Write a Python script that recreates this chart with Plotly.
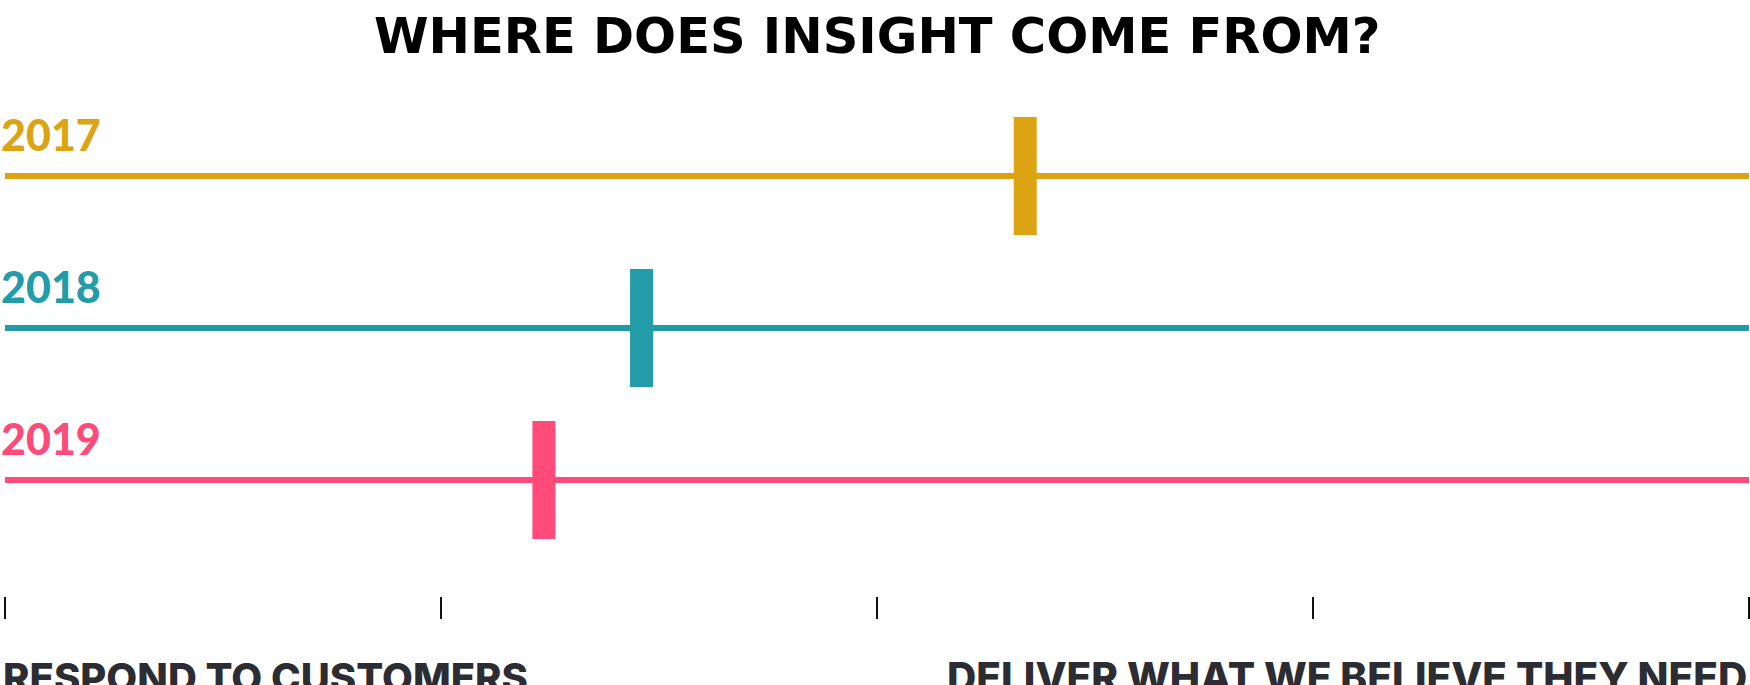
import plotly.graph_objects as go

# ---- data ----
years = ["2017", "2018", "2019"]
positions = [58.5, 36.5, 30.9]          # position on the 0-100 scale
colors = ["#DCA412", "#229CA8", "#FF4A7A"]
tick_values = [0, 25, 50, 75, 100]
left_label = "RESPOND TO CUSTOMERS"
right_label = "DELIVER WHAT WE BELIEVE THEY NEED"
title_text = "WHERE DOES INSIGHT COME FROM?"

W, H = 1750, 685
ML, MR, MT, MB = 5, 1, 0, 89
plot_h = H - MT - MB
row_top_px = 176          # pixel centre of the first row
row_gap_px = 152          # pixel gap between rows
y_lo = -(row_top_px - 0) / row_gap_px
y_hi = (plot_h - row_top_px) / row_gap_px
marker_len_px = 118
marker_w_px = 23

fig = go.Figure()
for i, (yr, pos, col) in enumerate(zip(years, positions, colors)):
    fig.add_trace(go.Scatter(
        x=[tick_values[0], tick_values[-1]], y=[i, i], mode="lines",
        line=dict(color=col, width=6), hoverinfo="skip", showlegend=False,
        cliponaxis=False))
    fig.add_trace(go.Scatter(
        x=[pos], y=[i], mode="markers",
        marker=dict(symbol="line-ns", size=marker_len_px / 1.4,
                    line=dict(color=col, width=marker_w_px)),
        showlegend=False, name=yr, cliponaxis=False))
    fig.add_annotation(
        x=0, y=i, xref="x", yref="y", text=yr, showarrow=False,
        xanchor="left", yanchor="bottom", xshift=-6, yshift=14,
        font=dict(family="Lato", size=43, color=col, weight=900))

fig.add_annotation(
    x=0.5, y=1, xref="paper", yref="paper", text=title_text, showarrow=False,
    xanchor="center", yanchor="top", yshift=-5,
    font=dict(family="DejaVu Sans", size=49.5, color="#000000", weight=700))

fig.add_annotation(
    x=0, y=0, xref="paper", yref="paper", text=left_label, showarrow=False,
    xanchor="left", yanchor="top", yshift=-55, xshift=-4,
    font=dict(family="Inter", size=40, color="#2B2D33", weight=800))
fig.add_annotation(
    x=1, y=0, xref="paper", yref="paper", text=right_label, showarrow=False,
    xanchor="right", yanchor="top", yshift=-55, xshift=0,
    font=dict(family="Inter", size=40.5, color="#2B2D33", weight=800))

fig.update_layout(
    width=W, height=H,
    margin=dict(l=ML, r=MR, t=MT, b=MB, autoexpand=False),
    paper_bgcolor="white", plot_bgcolor="white",
    xaxis=dict(range=[tick_values[0], tick_values[-1]], tickvals=tick_values,
               showticklabels=False, ticks="outside", ticklen=22,
               tickwidth=1.5, tickcolor="#111111", showgrid=False,
               zeroline=False, showline=False, fixedrange=True),
    yaxis=dict(range=[y_hi, y_lo], showticklabels=False, showgrid=False,
               zeroline=False, showline=False, ticks="", fixedrange=True),
)

fig.write_html(
    "out.html",
    config={"displayModeBar": False},
    post_script="document.body.style.margin='0';document.body.style.overflow='hidden';",
)
